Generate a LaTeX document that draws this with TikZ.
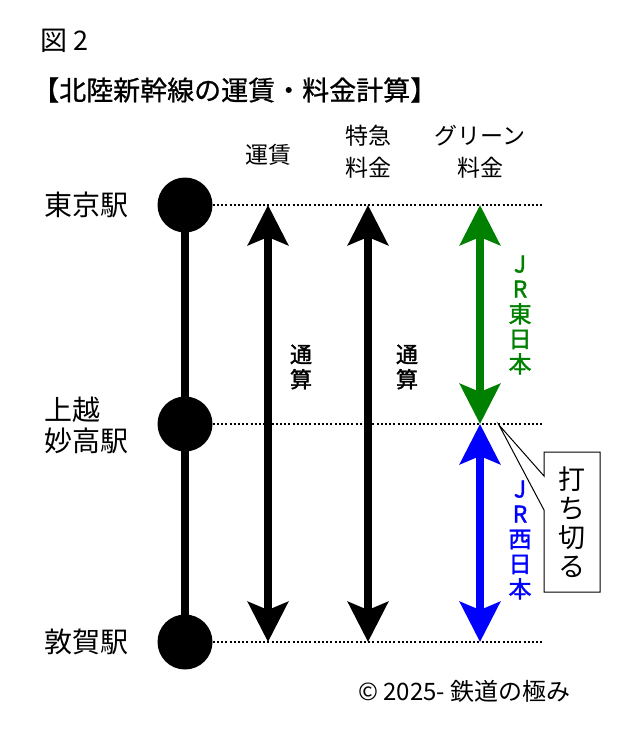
\documentclass[tikz,border=0pt]{standalone}
\usepackage{fontspec}
\setmainfont{Noto Sans CJK JP}
\newfontfamily\jpb{Noto Sans CJK JP}[FakeBold=1.5]
\newfontfamily\jpm{Noto Sans CJK JP}[FakeBold=0.8]
\usetikzlibrary{arrows.meta}
\definecolor{jrgreen}{RGB}{0,128,0}
\definecolor{jrblue}{RGB}{0,0,255}
\tikzset{
  stn/.style={circle,fill=black,minimum size=55pt,inner sep=0pt},
  stnlabel/.style={font=\fontsize{28}{31}\selectfont,align=left,anchor=west,inner sep=0pt},
  colhead/.style={font=\fontsize{23}{32}\selectfont,align=center,inner sep=0pt},
  dotline/.style={line width=2pt,dash pattern=on 2pt off 2.2pt},
  bigarrow/.style={line width=8pt,{Stealth[length=40pt,width=40pt,inset=8pt]}-{Stealth[length=40pt,width=40pt,inset=8pt]}},
  vtext/.style={font=\jpb\fontsize{22}{25}\selectfont,align=center,inner sep=0pt},
  jrtext/.style={font=\jpb\fontsize{23}{25}\selectfont,align=center,inner sep=0pt},
}
\begin{document}
\begin{tikzpicture}[x=1pt,y=-1pt]
\useasboundingbox (0,0) rectangle (640,741);
% titles
\node[anchor=west,inner sep=0pt,font=\fontsize{27}{30}\selectfont] (fig) at (40,41) {図 2};
\node[anchor=west,inner sep=0pt,font=\jpm\fontsize{27}{30}\selectfont] (title) at (32,90) {【北陸新幹線の運賃・料金計算】};
% column heads
\node[colhead] (h1) at (268,155) {運賃};
\node[colhead] (h2) at (368,152) {特急\\料金};
\node[colhead] (h3) at (480,152) {グリーン\\料金};
% stations
\coordinate (t) at (185,205);
\coordinate (j) at (185,424);
\coordinate (k) at (185,642);
\draw[line width=8pt] (t) -- (k);
\node[stn] (st) at (t) {};
\node[stn] (sj) at (j) {};
\node[stn] (sk) at (k) {};
\node[stnlabel] (lt) at (44,205) {東京駅};
\node[stnlabel] (lj) at (44,425) {上越\\妙高駅};
\node[stnlabel] (lk) at (44,642) {敦賀駅};
% dotted lines
\coordinate (te) at (543,205);
\coordinate (je) at (543,424);
\coordinate (ke) at (543,642);
\draw[dotline] (st.east) -- (te);
\draw[dotline] (sj.east) -- (je);
\draw[dotline] (sk.east) -- (ke);
% arrows
\coordinate (a1t) at (268,205); \coordinate (a1b) at (268,642);
\coordinate (a2t) at (368,205); \coordinate (a2b) at (368,642);
\coordinate (g1) at (480,205); \coordinate (g2) at (480,424); \coordinate (g3) at (480,642);
\draw[bigarrow] (a1t) -- (a1b);
\draw[bigarrow] (a2t) -- (a2b);
\draw[bigarrow,jrgreen] (g1) -- (g2);
\draw[bigarrow,jrblue] (g2) -- (g3);
% vertical labels
\node[vtext] (n1) at (301,367) {通\\算};
\node[vtext] (n2) at (407,367) {通\\算};
\node[jrtext,text=jrgreen] (e) at (520,315) {J\\R\\東\\日\\本};
\node[jrtext,text=jrblue] (w) at (520,540) {J\\R\\西\\日\\本};
% callout
\coordinate (tip) at (499,425);
\draw[line width=1pt,fill=white] (tip) -- (544,476) -- (544,452) -- (600,452) -- (600,592) -- (544,592) -- (544,510) -- cycle;
\node[font=\fontsize{27}{29}\selectfont,align=center,inner sep=0pt] (cut) at (572,522) {打\\ち\\切\\る};
% copyright
\node[anchor=west,inner sep=0pt,font=\fontsize{24}{26}\selectfont] (copy) at (358,691) {© 2025- 鉄道の極み};
\end{tikzpicture}
\end{document}
